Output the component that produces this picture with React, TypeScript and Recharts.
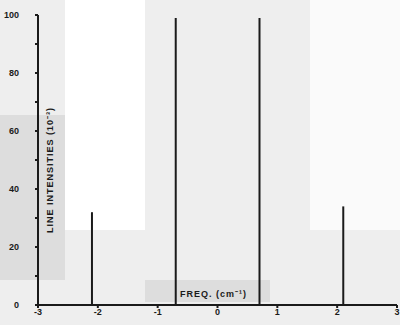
import React from 'react';
import { BarChart, Bar, XAxis, YAxis } from 'recharts';

// stick spectrum: four lines, 1:3:3:1
const linePositions = [-2.1, -0.7, 0.7, 2.1];
const lineIntensities = [32, 99, 99, 34];
const xTicks = [-3, -2, -1, 0, 1, 2, 3];
const yTicks = [0, 10, 20, 30, 40, 50, 60, 70, 80, 90, 100];
const yLabelled = [0, 20, 40, 60, 80, 100];

const data = linePositions.map((pos, i) => ({ pos, intensity: lineIntensities[i] }));

const INK = '#1a1a1a';
const tickFont = { fontFamily: 'Liberation Sans', fontSize: 9, fontWeight: 700, fill: INK };
const titleFont = { fontFamily: 'Liberation Sans', fontSize: 9, fontWeight: 700, fill: INK, letterSpacing: 1 };

const App: React.FC = () => {
  return (
    <div style={{ position: 'absolute', left: 0, top: 0, width: 400, height: 325, background: '#eeeeee', overflow: 'hidden' }}>
      {/* scan background patches */}
      <div style={{ position: 'absolute', left: 0, top: 115, width: 65, height: 165, background: '#dddddd' }} />
      <div style={{ position: 'absolute', left: 65, top: 0, width: 80, height: 230, background: '#ffffff' }} />
      <div style={{ position: 'absolute', left: 310, top: 0, width: 90, height: 230, background: '#fafafa' }} />
      <div style={{ position: 'absolute', left: 145, top: 280, width: 125, height: 22, background: '#dddddd' }} />
      <div style={{ position: 'absolute', left: 0, top: 0 }}>
        <BarChart
          width={400}
          height={325}
          data={data}
          margin={{ top: 15, right: 3, bottom: 0, left: 0 }}
        >
          <XAxis
            dataKey="pos"
            type="number"
            domain={[-3, 3]}
            ticks={xTicks}
            height={20}
            stroke={INK}
            strokeWidth={2}
            tickSize={3}
            tickMargin={1}
            tick={tickFont}
            label={{
              value: 'FREQ. (cm⁻¹)',
              position: 'top',
              offset: 8,
              dx: -4,
              style: titleFont,
            }}
          />
          <YAxis
            type="number"
            domain={[0, 100]}
            ticks={yTicks}
            interval={0}
            width={38}
            stroke={INK}
            strokeWidth={2}
            tickSize={3}
            tickMargin={16}
            tick={tickFont}
            tickFormatter={(v: number) => (yLabelled.includes(v) ? String(v) : '')}
            label={{
              value: 'LINE INTENSITIES (10⁻³)',
              angle: -90,
              position: 'right',
              offset: 12,
              dy: 10,
              style: { ...titleFont, textAnchor: 'middle' },
            }}
          />
          <Bar dataKey="intensity" barSize={2} fill={INK} isAnimationActive={false} />
        </BarChart>
      </div>
    </div>
  );
};

export default App;
